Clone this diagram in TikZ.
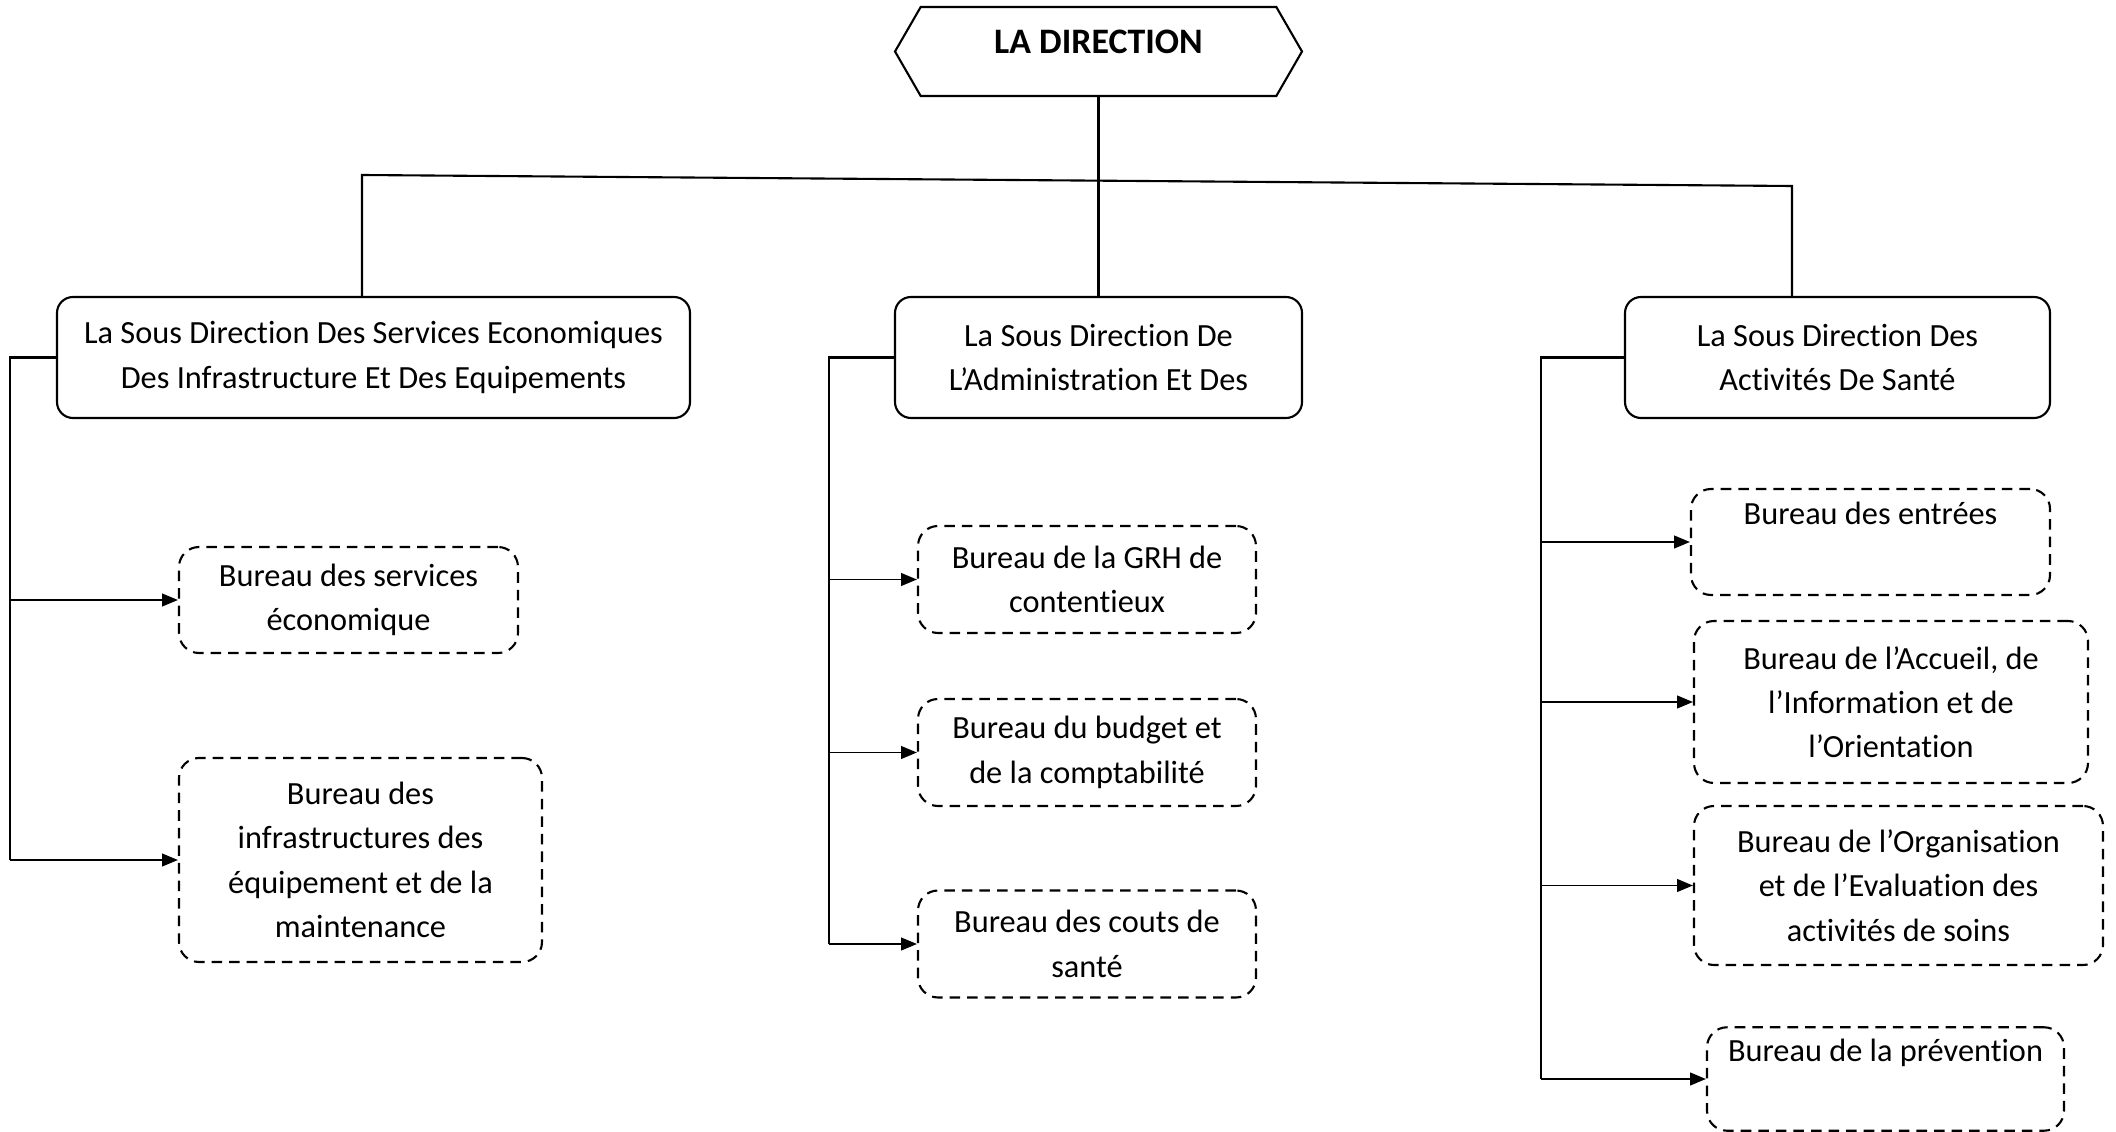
\documentclass[tikz,border=0pt]{standalone}
\usepackage{fontspec}
\setmainfont[Ligatures={TeX,NoCommon}]{Carlito}
\usepackage{tikz}
\usetikzlibrary{arrows.meta}
\usetikzlibrary{shapes.symbols}

\begin{document}
\begin{tikzpicture}[
    sousdir/.style={draw, rounded corners=0.16cm, align=center, minimum height=1.21cm, line width=0.6pt},
    bureau/.style={draw, dash pattern=on 3pt off 2pt, rounded corners=0.2cm, align=center, line width=0.6pt},
    fleche/.style={-{Triangle[length=4.5pt,width=3.6pt]}, line width=0.55pt},
    trait/.style={line width=0.6pt},
    font=\fontsize{9.2}{12.6}\selectfont]
  \useasboundingbox (0,0) rectangle (21.16,-11.32);

  \node[draw, signal, signal to=east and west, signal pointer angle=120,
        minimum width=4.07cm, minimum height=0.89cm, text depth=5.4pt, line width=0.6pt,
        font=\fontsize{10.2}{12}\selectfont\bfseries] (dir) at (10.985,-0.515) {LA DIRECTION};

  \node[sousdir, minimum width=6.33cm] (sd1) at (3.735,-3.575)
       {La Sous Direction Des Services Economiques\\Des Infrastructure Et Des Equipements};
  \node[sousdir, minimum width=4.07cm] (sd2) at (10.985,-3.575)
       {La Sous Direction De\\L’Administration Et Des};
  \node[sousdir, minimum width=4.25cm] (sd3) at (18.375,-3.575)
       {La Sous Direction Des\\Activités De Santé};

  \node[bureau, minimum width=3.39cm, minimum height=1.06cm] (b1) at (3.485,-6.00)
       {Bureau des services\\économique};
  \node[bureau, minimum width=3.63cm, minimum height=2.04cm] (b2) at (3.605,-8.60)
       {Bureau des\\infrastructures des\\équipement et de la\\maintenance};

  \node[bureau, minimum width=3.38cm, minimum height=1.07cm] (b3) at (10.87,-5.795)
       {Bureau de la GRH de\\contentieux};
  \node[bureau, minimum width=3.38cm, minimum height=1.07cm] (b4) at (10.87,-7.525)
       {Bureau du budget et\\de la comptabilité};
  \node[bureau, minimum width=3.38cm, minimum height=1.07cm] (b5) at (10.87,-9.44)
       {Bureau des couts de\\santé};

  \node[bureau, minimum width=3.59cm, minimum height=1.06cm] (b6) at (18.705,-5.42)
       {Bureau des entrées\\\strut};
  \node[bureau, minimum width=3.94cm, minimum height=1.62cm] (b7) at (18.91,-7.02)
       {Bureau de l’Accueil, de\\l’Information et de\\l’Orientation};
  \node[bureau, minimum width=4.09cm, minimum height=1.59cm] (b8) at (18.985,-8.855)
       {Bureau de l’Organisation\\et de l’Evaluation des\\activités de soins};
  \node[bureau, minimum width=3.57cm, minimum height=1.02cm] (b9) at (18.855,-10.79)
       {Bureau de la prévention\\\strut};

  \coordinate (barL) at (3.62,-1.75);
  \coordinate (barR) at (17.92,-1.86);
  \draw[trait] (dir.south) -- (sd2.north);
  \draw[trait] (barL |- sd1.north) -- (barL) -- (barR) -- (barR |- sd3.north);

  \draw[trait] (sd1.west) -- ++(-0.46,0) coordinate (k1) -- (k1 |- b2.west);
  \draw[trait] (sd2.west) -- ++(-0.65,0) coordinate (k2) -- (k2 |- b5.west);
  \draw[trait] (sd3.west) -- ++(-0.83,0) coordinate (k3) -- (k3 |- b9.west);
  \foreach \b in {b1,b2} \draw[fleche] (k1 |- \b.west) -- (\b.west);
  \foreach \b in {b3,b4,b5} \draw[fleche] (k2 |- \b.west) -- (\b.west);
  \foreach \b in {b6,b7,b8,b9} \draw[fleche] (k3 |- \b.west) -- (\b.west);
\end{tikzpicture}
\end{document}
